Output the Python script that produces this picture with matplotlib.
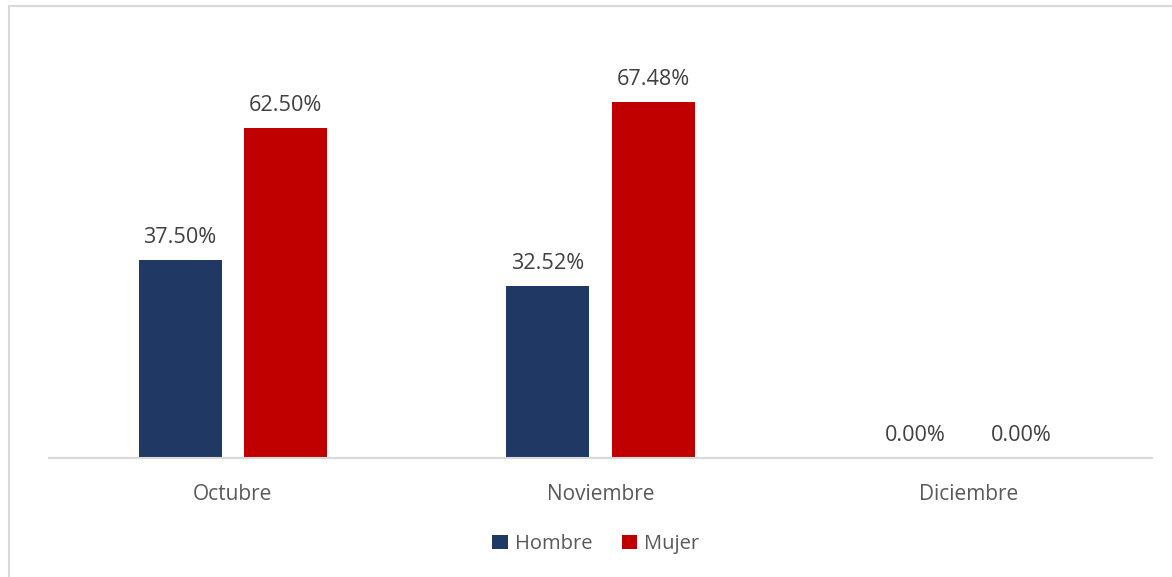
import matplotlib
matplotlib.use("Agg")
import matplotlib.pyplot as plt
from matplotlib.lines import Line2D
from matplotlib.patches import Patch
import numpy as np

categories = ["Octubre", "Noviembre", "Diciembre"]
hombre = [37.50, 32.52, 0.00]
mujer = [62.50, 67.48, 0.00]
series_names = ["Hombre", "Mujer"]
colors = ["#1F3864", "#C00000"]

plt.rcParams['font.family'] = ['Open Sans', 'DejaVu Sans']
text_color = "#404040"
tick_color = "#595959"

fig = plt.figure(figsize=(11.72, 5.77), dpi=100)
W, H = 1172, 577
ax = fig.add_axes([49 / W, 1 - 458 / H, (1152 - 49) / W, (458 - 36) / H])

x = np.arange(len(categories))
width = 0.226
off = 0.1435
b1 = ax.bar(x - off, hombre, width, color=colors[0], label=series_names[0])
b2 = ax.bar(x + off, mujer, width, color=colors[1], label=series_names[1])

for bars, vals in ((b1, hombre), (b2, mujer)):
    for rect, v in zip(bars, vals):
        ax.annotate(f"{v:.2f}%", (rect.get_x() + rect.get_width() / 2, v),
                    xytext=(0, 12.3), textcoords="offset points",
                    ha="center", va="baseline", fontsize=15.6, color=text_color)

ax.set_xlim(-0.5, len(categories) - 0.5)
ax.set_ylim(0, 80)
ax.set_yticks([])
ax.set_xticks(x)
ax.set_xticklabels(categories, fontsize=15, color=tick_color)
ax.tick_params(axis="x", length=0, pad=19)
for s in ["top", "right", "left"]:
    ax.spines[s].set_visible(False)
ax.spines["bottom"].set_color("#D9D9D9")
ax.spines["bottom"].set_linewidth(1.5)

handles = [Patch(facecolor=c, label=n) for c, n in zip(colors, series_names)]
leg = fig.legend(handles=handles, loc="center", bbox_to_anchor=(596 / W, 1 - 544 / H),
                 ncol=2, frameon=False, fontsize=14.5, handlelength=0.75, handleheight=0.75,
                 handletextpad=0.35, columnspacing=1.5)
for t in leg.get_texts():
    t.set_color(tick_color)

# chart border (top and left visible)
fig.add_artist(Line2D([9 / W, 1], [1 - 6 / H, 1 - 6 / H], color="#D9D9D9", lw=1.5))
fig.add_artist(Line2D([9 / W, 9 / W], [0, 1 - 6 / H], color="#D9D9D9", lw=1.5))

fig.savefig("out.png", dpi=100)
